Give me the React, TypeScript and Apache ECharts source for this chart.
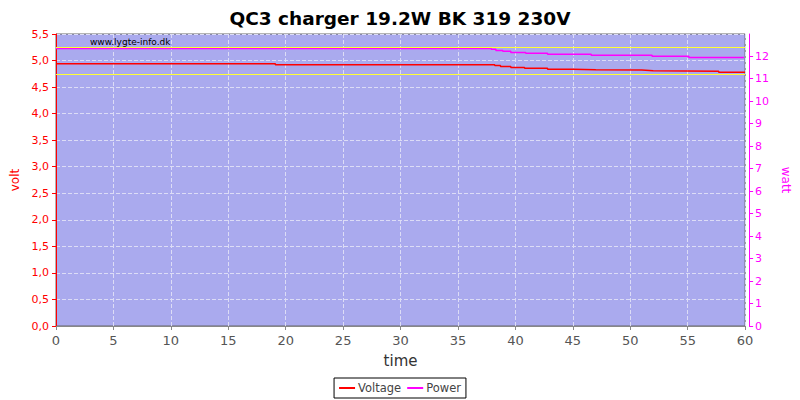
import React, { useEffect, useRef } from "react";
import * as echarts from "echarts";

const timeV = [0, 19.1, 38.2, 38.7, 39.6, 40.8, 42.8, 45.0, 47.0, 51.0, 52.0, 57.7, 60];
const voltage = [4.94, 4.92, 4.905, 4.89, 4.87, 4.855, 4.835, 4.825, 4.82, 4.81, 4.8, 4.78, 4.78];
const timeP = [0, 37.9, 38.3, 38.9, 39.6, 40.9, 42.8, 46.6, 51.9, 55.1, 59.9];
const power = [12.34, 12.3, 12.25, 12.21, 12.16, 12.12, 12.08, 12.03, 11.99, 11.94, 11.94];
const limits = [4.75, 5.25];

const title = "QC3 charger 19.2W BK 319 230V";

export default function App() {
  const ref = useRef<HTMLDivElement>(null);
  useEffect(() => {
    const chart = echarts.init(ref.current!, null, { renderer: "svg" });
    const font = "DejaVu Sans";
    chart.setOption({
      animation: false,
      textStyle: { fontFamily: font },
      title: {
        text: title,
        left: "center",
        top: 4,
        textStyle: { fontFamily: font, fontSize: 18.5, fontWeight: "bold", color: "#000" },
      },
      graphic: [
        {
          type: "text",
          left: 90,
          top: 37,
          style: { text: "www.lygte-info.dk", fontFamily: font, fontSize: 9, fill: "#000" },
        },
      ],
      legend: {
        bottom: 2,
        left: "center",
        itemWidth: 16,
        itemHeight: 2,
        itemGap: 6,
        borderColor: "#000",
        borderWidth: 1,
        borderRadius: 0,
        padding: [4, 5],
        icon: "rect",
        textStyle: { fontFamily: font, fontSize: 11.5, color: "#444", padding: [0, 0, 0, -2] },
        data: ["Voltage", "Power"],
      },
      grid: {
        left: 56,
        right: 54,
        top: 34,
        bottom: 74,
        show: true,
        backgroundColor: "#AAAAEE",
        borderColor: "#666",
        borderWidth: 1,
      },
      xAxis: {
        type: "value",
        min: 0,
        max: 60,
        interval: 5,
        offset: 3,
        name: "time",
        nameLocation: "middle",
        nameGap: 24,
        nameTextStyle: { fontFamily: font, fontSize: 15, color: "#333" },
        axisLine: { lineStyle: { color: "#888" } },
        axisTick: { lineStyle: { color: "#888" }, length: 4 },
        axisLabel: { fontFamily: font, fontSize: 13, color: "#555", margin: 5 },
        splitLine: { show: true, lineStyle: { color: "#dcdcf6", type: "dashed" } },
      },
      yAxis: [
        {
          type: "value",
          min: 0,
          max: 5.5,
          interval: 0.5,
          offset: 3,
          name: "volt",
          nameLocation: "middle",
          nameGap: 29,
          nameRotate: 90,
          nameTextStyle: { fontFamily: font, fontSize: 12, color: "#f00" },
          axisLine: { show: true, lineStyle: { color: "#f00" } },
          axisTick: { show: true, lineStyle: { color: "#f00" }, length: 4 },
          axisLabel: {
            fontFamily: font,
            fontSize: 11,
            color: "#f00",
            margin: 4,
            formatter: (v: number) => v.toFixed(1).replace(".", ","),
          },
          splitLine: { show: true, lineStyle: { color: "#dcdcf6", type: "dashed" } },
        },
        {
          type: "value",
          min: 0,
          max: 12.98,
          interval: 1,
          offset: 4,
          position: "right",
          name: "watt",
          nameLocation: "middle",
          nameGap: 24,
          nameRotate: -90,
          nameTextStyle: { fontFamily: font, fontSize: 12, color: "#f0f" },
          axisLine: { show: true, lineStyle: { color: "#f0f" } },
          axisTick: { show: true, lineStyle: { color: "#f0f" }, length: 4 },
          axisLabel: { fontFamily: font, fontSize: 11, color: "#f0f", margin: 6, showMaxLabel: false },
          splitLine: { show: false },
        },
      ],
      series: [
        {
          name: "Voltage",
          type: "line",
          yAxisIndex: 0,
          step: "end",
          symbol: "none",
          color: "#f00",
          lineStyle: { width: 1.5, color: "#f00" },
          data: timeV.map((t, i) => [t, voltage[i]]),
          markLine: {
            silent: true,
            symbol: "none",
            label: { show: false },
            lineStyle: { color: "#ffff33", type: "solid", width: 1.2 },
            data: limits.map((v) => ({ yAxis: v })),
          },
          z: 3,
        },
        {
          name: "Power",
          type: "line",
          yAxisIndex: 1,
          step: "end",
          symbol: "none",
          color: "#f0f",
          lineStyle: { width: 1.5, color: "#f0f" },
          data: timeP.map((t, i) => [t, power[i]]),
          z: 4,
        },
      ],
    });
    return () => chart.dispose();
  }, []);
  return <div ref={ref} style={{ width: 800, height: 400, position: "absolute", left: 0, top: 0 }} />;
}
